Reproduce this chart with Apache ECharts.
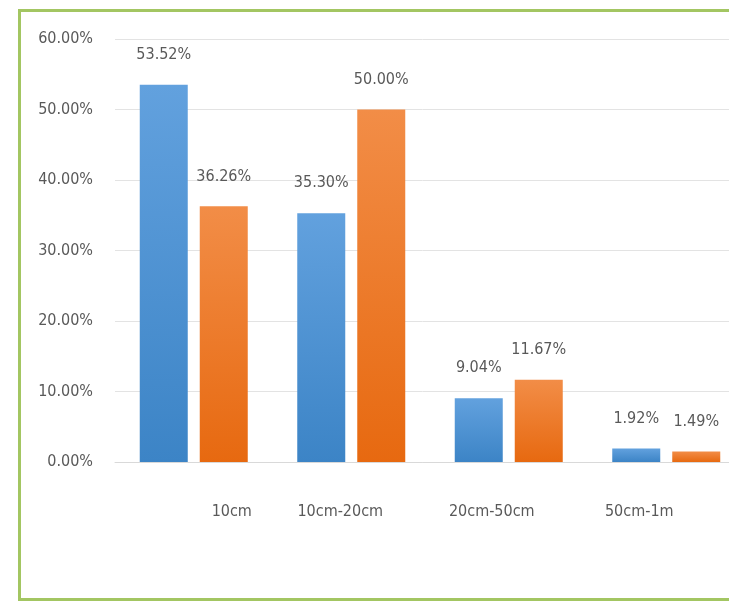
<!DOCTYPE html>
<html>
<head>
<meta charset="utf-8">
<script src="https://cdn.jsdelivr.net/npm/echarts@6/dist/echarts.min.js"></script>
<style>
html,body{margin:0;padding:0;background:#fff;overflow:hidden;}
#chart{width:729px;height:603px;}
</style>
</head>
<body>
<div id="chart"></div>
<script>
var categories = ['10cm', '10cm-20cm', '20cm-50cm', '50cm-1m'];
var seriesA = [53.52, 35.30, 9.04, 1.92];
var seriesB = [36.26, 50.00, 11.67, 1.49];
var yTicks = [0, 10, 20, 30, 40, 50, 60];

var FONT = "'Liberation Sans Narrow', 'DejaVu Sans Condensed', 'Roboto Condensed', 'Liberation Sans', sans-serif";
var labelShift = [[0,0,0,76],[0,22,0,0],[0,34,0,0],[0,54,0,0]];

var chart = echarts.init(document.getElementById('chart'));
chart.setOption({
  animation: false,
  backgroundColor: '#fff',
  graphic: [{
    type: 'rect',
    shape: {x: 19.5, y: 10.5, width: 800, height: 589},
    style: {fill: 'none', stroke: '#a3c662', lineWidth: 3},
    silent: true
  }],
  grid: {left: 115, width: 630, top: 39, height: 423, containLabel: false, outerBoundsMode: 'none'},
  xAxis: {
    type: 'category',
    data: categories.map(function (c, i) {
      return {value: c, textStyle: {padding: labelShift[i]}};
    }),
    axisLine: {lineStyle: {color: '#d9d9d9', width: 1}},
    axisTick: {show: false},
    axisLabel: {color: '#595959', fontSize: 16, fontFamily: FONT, margin: 42}
  },
  yAxis: {
    type: 'value',
    min: yTicks[0],
    max: yTicks[yTicks.length - 1],
    interval: 10,
    axisLine: {show: false},
    axisTick: {show: false},
    splitLine: {lineStyle: {color: '#e3e3e3', width: 1}},
    axisLabel: {
      color: '#595959', fontSize: 16, fontFamily: FONT, margin: 22,
      formatter: function (v) { return v.toFixed(2) + '%'; }
    }
  },
  series: [
    {
      type: 'bar',
      data: seriesA,
      barWidth: 48,
      barGap: '25%',
      itemStyle: {
        color: new echarts.graphic.LinearGradient(0, 0, 0, 1, [
          {offset: 0, color: '#62a1de'},
          {offset: 1, color: '#3c84c6'}
        ])
      },
      label: {
        show: true, position: 'top', distance: 22,
        color: '#595959', fontSize: 16, fontFamily: FONT,
        formatter: function (p) { return p.value.toFixed(2) + '%'; }
      }
    },
    {
      type: 'bar',
      data: seriesB,
      barWidth: 48,
      barGap: '25%',
      itemStyle: {
        color: new echarts.graphic.LinearGradient(0, 0, 0, 1, [
          {offset: 0, color: '#f28d47'},
          {offset: 1, color: '#e76910'}
        ])
      },
      label: {
        show: true, position: 'top', distance: 22,
        color: '#595959', fontSize: 16, fontFamily: FONT,
        formatter: function (p) { return p.value.toFixed(2) + '%'; }
      }
    }
  ]
});
</script>
</body>
</html>
